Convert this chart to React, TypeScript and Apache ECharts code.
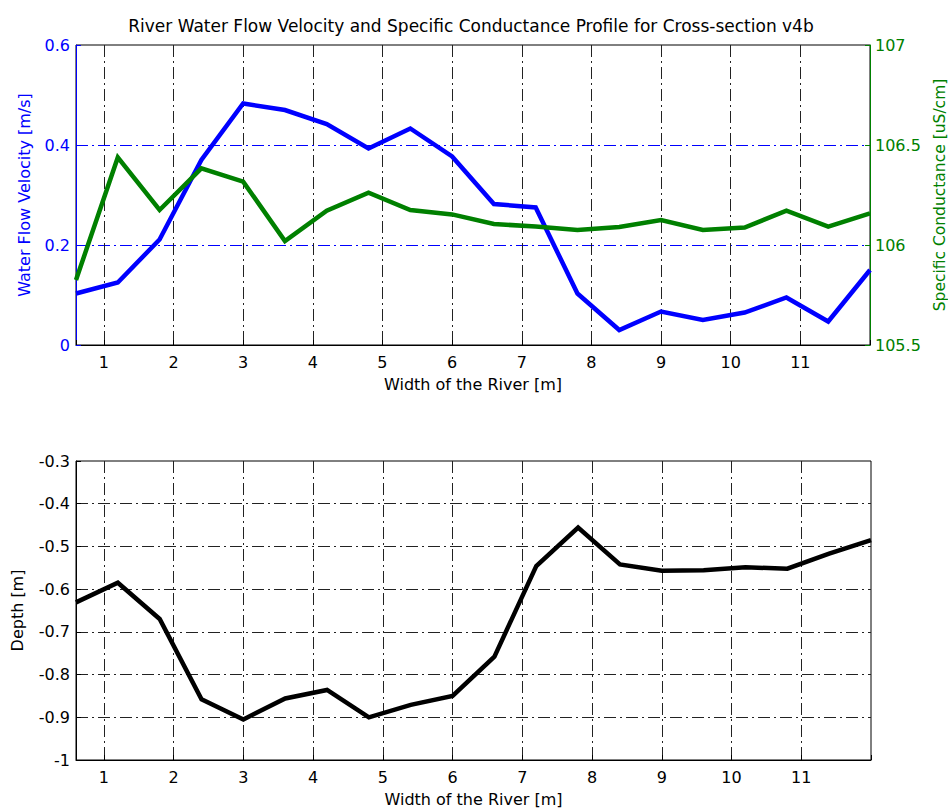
import React, { useEffect, useRef } from "react";
import * as echarts from "echarts";

const widths = [0.6, 1.2, 1.8, 2.4, 3.0, 3.6, 4.2, 4.8, 5.4, 6.0, 6.6, 7.2, 7.8, 8.4, 9.0, 9.6, 10.2, 10.8, 11.4, 12.0];
const velocity = [0.103, 0.125, 0.211, 0.37, 0.483, 0.47, 0.442, 0.393, 0.433, 0.377, 0.282, 0.275, 0.103, 0.03, 0.067, 0.05, 0.065, 0.095, 0.047, 0.15];
const conductance = [105.825, 106.438, 106.175, 106.383, 106.317, 106.02, 106.172, 106.262, 106.175, 106.153, 106.105, 106.092, 106.075, 106.09, 106.125, 106.075, 106.087, 106.172, 106.092, 106.158];
const depth = [-0.631, -0.585, -0.67, -0.858, -0.905, -0.856, -0.836, -0.9, -0.871, -0.85, -0.758, -0.546, -0.456, -0.542, -0.557, -0.556, -0.549, -0.552, -0.517, -0.485];
const xTickLabels = ["1", "2", "3", "4", "5", "6", "7", "8", "9", "10", "11"];

const TITLE = "River Water Flow Velocity and Specific Conductance Profile for Cross-section v4b";
const X_NAME = "Width of the River [m]";
const FONT = "DejaVu Sans";
const FS = 16;
const BLUE = "#0000ff";
const GREEN = "#008000";
const DASHDOT = [12, 4, 2, 4];

export default function App() {
  const ref = useRef<HTMLDivElement>(null);
  useEffect(() => {
    if (!ref.current) return;
    const chart = echarts.init(ref.current, undefined, { renderer: "svg" });
    const xFormatter = (v: number) => (xTickLabels.includes(String(v)) ? String(v) : "");
    const baseX = (gridIndex: number) => ({
      type: "value" as const,
      gridIndex,
      min: 0.6,
      max: 12,
      splitNumber: 11,
      name: X_NAME,
      nameLocation: "middle" as const,
      nameGap: 31,
      nameTextStyle: { color: "#000", fontSize: FS, fontFamily: FONT },
      axisLine: { show: true, lineStyle: { color: "#000", width: 1 } },
      axisTick: { show: true, inside: true, length: 5, lineStyle: { color: "#000" } },
      axisLabel: { formatter: xFormatter, color: "#000", fontSize: FS, fontFamily: FONT, margin: 9 },
      splitLine: {
        show: true,
        showMinLine: false,
        showMaxLine: false,
        lineStyle: { color: "#222", type: DASHDOT, width: 1 },
      },
    });
    chart.setOption({
      animation: false,
      backgroundColor: "#fff",
      title: {
        text: TITLE,
        left: 466,
        textAlign: "center",
        top: 12,
        textStyle: { fontFamily: FONT, fontSize: 17, fontWeight: "normal", color: "#000" },
      },
      grid: [
        { left: 76, right: 78, top: 45, height: 300, show: true, borderColor: "#000", borderWidth: 1, backgroundColor: "transparent", outerBoundsMode: "none", containLabel: false },
        { left: 76, right: 77, top: 461, height: 299, show: true, borderColor: "#000", borderWidth: 1, backgroundColor: "transparent", outerBoundsMode: "none", containLabel: false },
      ],
      xAxis: [baseX(0), baseX(1)],
      yAxis: [
        {
          type: "value",
          gridIndex: 0,
          position: "left",
          min: 0,
          max: 0.6,
          interval: 0.2,
          name: "Water Flow Velocity [m/s]",
          nameLocation: "middle",
          nameGap: 44,
          nameTextStyle: { color: BLUE, fontSize: FS, fontFamily: FONT },
          axisLine: { show: true, lineStyle: { color: BLUE, width: 1 } },
          axisTick: { show: true, inside: true, length: 5, lineStyle: { color: BLUE } },
          axisLabel: { color: BLUE, fontSize: FS, fontFamily: FONT, margin: 6 },
          splitLine: {
            show: true,
            showMinLine: false,
            showMaxLine: false,
            lineStyle: { color: BLUE, type: DASHDOT, width: 1 },
          },
        },
        {
          type: "value",
          gridIndex: 0,
          position: "right",
          min: 105.5,
          max: 107,
          interval: 0.5,
          name: "Specific Conductance [uS/cm]",
          nameLocation: "middle",
          nameGap: 53,
          nameTextStyle: { color: GREEN, fontSize: 15.5, fontFamily: FONT },
          axisLine: { show: true, lineStyle: { color: GREEN, width: 1 } },
          axisTick: { show: true, inside: true, length: 5, lineStyle: { color: GREEN } },
          axisLabel: { color: GREEN, fontSize: FS, fontFamily: FONT, margin: 5 },
          splitLine: { show: false },
        },
        {
          type: "value",
          gridIndex: 1,
          min: -1,
          max: -0.3,
          interval: 0.1,
          name: "Depth [m]",
          nameLocation: "middle",
          nameGap: 51,
          nameTextStyle: { color: "#000", fontSize: FS, fontFamily: FONT },
          axisLine: { show: true, lineStyle: { color: "#000", width: 1 } },
          axisTick: { show: true, inside: true, length: 5, lineStyle: { color: "#000" } },
          axisLabel: { color: "#000", fontSize: FS, fontFamily: FONT, margin: 6 },
          splitLine: {
            show: true,
            showMinLine: false,
            showMaxLine: false,
            lineStyle: { color: "#222", type: DASHDOT, width: 1 },
          },
        },
      ],
      series: [
        {
          type: "line",
          name: "Velocity",
          xAxisIndex: 0,
          yAxisIndex: 0,
          data: widths.map((w, i) => [w, velocity[i]]),
          symbol: "none",
          lineStyle: { color: BLUE, width: 4.5, join: "miter" },
        },
        {
          type: "line",
          name: "Conductance",
          xAxisIndex: 0,
          yAxisIndex: 1,
          data: widths.map((w, i) => [w, conductance[i]]),
          symbol: "none",
          lineStyle: { color: GREEN, width: 4.5, join: "miter" },
        },
        {
          type: "line",
          name: "Depth",
          xAxisIndex: 1,
          yAxisIndex: 2,
          data: widths.map((w, i) => [w, depth[i]]),
          symbol: "none",
          lineStyle: { color: "#000", width: 4.5, join: "miter" },
        },
      ],
    });
    return () => chart.dispose();
  }, []);
  return <div ref={ref} style={{ width: 948, height: 811, position: "absolute", left: 0, top: 0 }} />;
}
